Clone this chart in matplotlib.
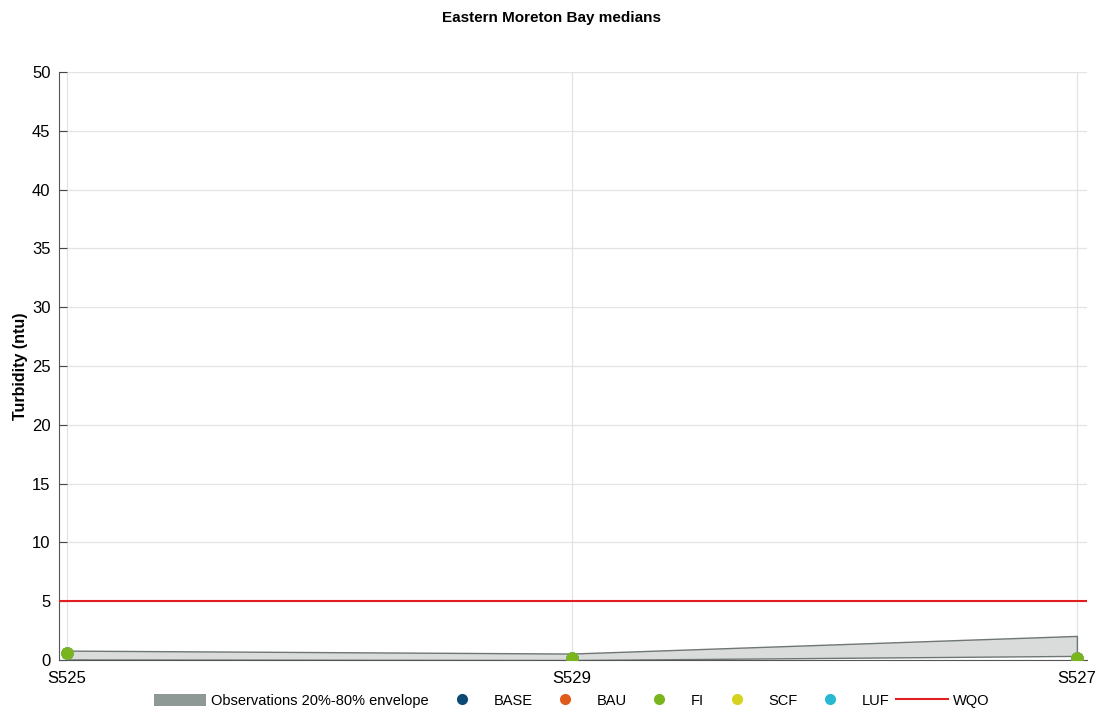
import matplotlib
matplotlib.use("Agg")
import matplotlib.pyplot as plt
from matplotlib.patches import Patch
from matplotlib.lines import Line2D

plt.rcParams['font.family'] = ['Liberation Sans', 'DejaVu Sans']

sites = ['S525', 'S529', 'S527']
env_low = [0.05, 0.0, 0.35]
env_high = [0.8, 0.55, 2.05]
scenarios = ['BASE', 'BAU', 'FI', 'SCF', 'LUF']
colors = ['#0d4a73', '#e05a1c', '#7ab51d', '#d6d21e', '#26b9cf']
medians = {
    'BASE': [0.6, 0.2, 0.15],
    'BAU': [0.6, 0.2, 0.15],
    'SCF': [0.6, 0.2, 0.15],
    'LUF': [0.6, 0.2, 0.15],
    'FI': [0.6, 0.2, 0.15],
}
wqo = 5

fig = plt.figure(figsize=(11.04, 7.11), dpi=100)
ax = fig.add_axes([0.0534, 0.0717, 0.9312, 0.827])

x = list(range(len(sites)))
ax.fill_between(x, env_low, env_high, facecolor='#d9dcda', edgecolor='#6f7775', linewidth=1.0, zorder=2)

# FI drawn last since it sits on top in the original
for name in ['BASE', 'BAU', 'SCF', 'LUF', 'FI']:
    c = colors[scenarios.index(name)]
    ax.scatter(x, medians[name], s=80, color=c, zorder=4, linewidths=0)

ax.axhline(wqo, color='#e02020', linewidth=1.5, zorder=3)

ax.set_xlim(-0.016, 2.02)
ax.set_ylim(0, 50)
ax.set_yticks(range(0, 51, 5))
ax.set_xticks(x)
ax.set_xticklabels(sites)
ax.tick_params(axis='y', direction='in', length=6, labelsize=12, color='#444444', pad=6)
ax.tick_params(axis='x', length=0, labelsize=12, pad=8)
ax.grid(True, color='#e3e3e3', linewidth=0.9, zorder=0)
ax.set_axisbelow(True)
for side in ['top', 'right']:
    ax.spines[side].set_visible(False)
ax.spines['left'].set_color('#555555')
ax.spines['bottom'].set_color('#555555')

ax.set_ylabel('Turbidity (ntu)', fontsize=11.5, fontweight='bold', labelpad=3)
fig.suptitle('Eastern Moreton Bay medians', fontsize=11, fontweight='bold', y=0.985)

handles = [Patch(facecolor='#8e9996', edgecolor='none', label='Observations 20%-80% envelope')]
for name, c in zip(scenarios, colors):
    handles.append(Line2D([], [], marker='o', linestyle='none', markersize=8,
                          markerfacecolor=c, markeredgecolor='none', label=name))
handles.append(Line2D([], [], color='#e02020', linewidth=1.5, label='WQO'))
fig.legend(handles=handles, loc='lower center', ncol=7, frameon=False, fontsize=10.5,
           bbox_to_anchor=(0.518, -0.014), handlelength=3.6, handleheight=0.9,
           columnspacing=0.45, handletextpad=0.35)

fig.savefig('out.png', dpi=100)
